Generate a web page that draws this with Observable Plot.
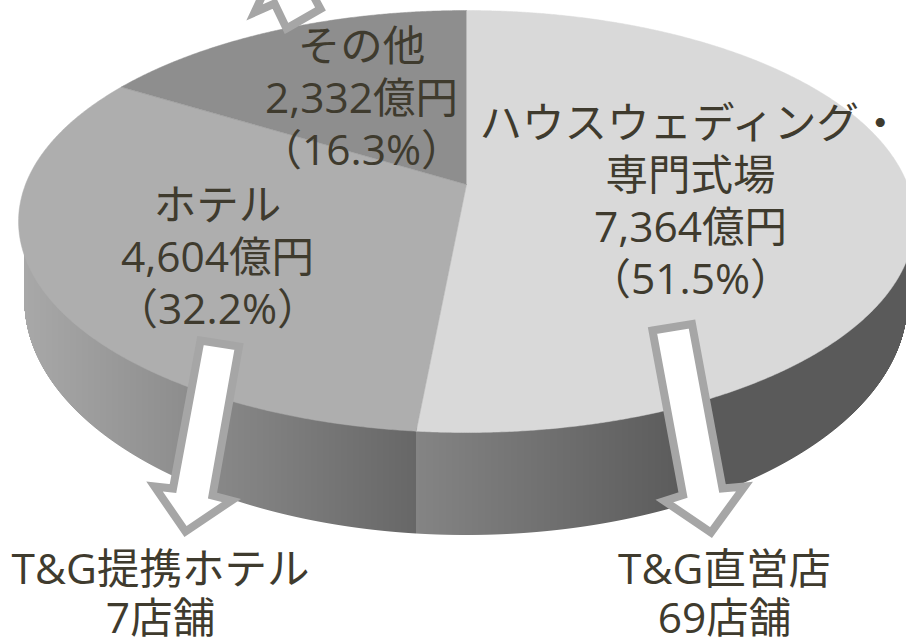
<!DOCTYPE html>
<html lang="ja">
<head>
<meta charset="utf-8">
<script src="https://cdn.jsdelivr.net/npm/d3@7"></script>
<script src="https://cdn.jsdelivr.net/npm/@observablehq/plot@0.6"></script>
<style>
html,body{margin:0;padding:0;background:#fff;overflow:hidden}
</style>
</head>
<body>
<div id="chart"></div>
<script>
// Data
const segments = ["ハウスウェディング・\n専門式場", "ホテル", "その他"];
const amounts = [7364, 4604, 2332];
const shares = [51.5, 32.2, 16.3];
const faceColors = ["#d9d9d9", "#aeaeae", "#8e8e8e"];
const stores = ["T&G直営店\n69店舗", "T&G提携ホテル\n7店舗"];

// Layout
const W = 906, H = 639;
const apex = {x: 466, y: 184}, k = 0.1754, a = 204.5, b = 441;
const rim = {cx: 466, cy: 221, rx: 448, ry: 211};
const base = {cx: 466, cy: 300, rx: 442, ry: 235};
const project = (t) => {
  const u = Math.sin(t), v = Math.cos(t), d = 1 + k * v;
  return {x: apex.x + b * u / d, y: apex.y - a * v / d};
};

// Top face of the pie, one polygon per share
let acc = 0;
const face = [];
shares.forEach((s, i) => {
  const t0 = acc / 100 * 2 * Math.PI;
  acc += s;
  const t1 = acc / 100 * 2 * Math.PI;
  face.push({i, ...apex});
  const n = Math.ceil((t1 - t0) / 0.005);
  for (let j = 0; j <= n; j++) face.push({i, ...project(t0 + (t1 - t0) * j / n)});
});
const seamX = project(shares[0] / 100 * 2 * Math.PI).x;

// Side wall, one thin column per pixel of width
const grayLeft = d3.scaleLinear().domain([base.cx - base.rx, seamX]).range([168, 103]);
const grayRight = d3.scaleLinear().domain([seamX, 690, W]).range([132, 90, 90]);
const wall = d3.range(Math.ceil(base.cx - base.rx), W).map((x) => {
  const g = Math.round(x < seamX ? grayLeft(x) : grayRight(x));
  const arc = (e) => e.cy + e.ry * Math.sqrt(Math.max(0, 1 - ((x + 0.5 - e.cx) / e.rx) ** 2));
  return {x1: x, x2: x + 1, y1: arc(rim) - 3, y2: arc(base), fill: `rgb(${g},${g},${g})`};
});

// Hollow arrows
const arrows = [
  [[286,28],[320,8.5],[310,-10],[330,-20],[268,-18],[254,12],[274,3]],
  [[200,340],[238.5,346],[212,495],[231,500],[185,531],[154,486],[172.5,488]],
  [[652,330],[691.5,323.5],[722,488],[744,486],[710.5,532],[664,500.5],[682.5,494.5]]
].flatMap((pts, i) => pts.map(([x, y]) => ({i, x, y})));

// Labels
const fmt = d3.format(",");
const pieStep = 52, storeStep = 48.5;
const pieLabels = segments.map((s, i) => [...s.split("\n"), `${fmt(amounts[i])}億円`, `（${shares[i]}%）`]);
const pieAnchors = [{x: 690, y: 124}, {x: 217, y: 206}, {x: 361, y: 47}];
const storeLabels = stores.map((s) => s.split("\n"));
const storeAnchors = [{x: 724, y: 570}, {x: 160, y: 570}];
const textRows = [...pieLabels.flatMap((lines, i) => lines.map((text, j) => ({text, x: pieAnchors[i].x, y: pieAnchors[i].y + j * pieStep}))),
  ...storeLabels.flatMap((lines, i) => lines.map((text, j) => ({text, x: storeAnchors[i].x, y: storeAnchors[i].y + j * storeStep})))];

const chart = Plot.plot({
  width: W, height: H,
  margin: 0,
  x: {domain: [0, W], range: [0, W], axis: null},
  y: {domain: [0, H], range: [0, H], axis: null},
  color: {type: "identity"},
  style: {background: "#fff", overflow: "hidden"},
  marks: [
    Plot.rect(wall, {x1: "x1", x2: "x2", y1: "y1", y2: "y2", fill: "fill"}),
    Plot.line(face, {x: "x", y: "y", z: "i", fill: (d) => faceColors[d.i], stroke: (d) => faceColors[d.i], strokeWidth: 0.5, curve: "linear"}),
    Plot.line(arrows, {x: "x", y: "y", z: "i", fill: "#fff", stroke: "#a6a6a6", strokeWidth: 8, strokeLinejoin: "miter", strokeMiterlimit: 6, curve: "linear-closed"}),
    Plot.text(textRows, {x: "x", y: "y", text: "text", fontSize: 42.5, fill: "#3f3b2e", textAnchor: "middle", lineAnchor: "middle",
      fontFamily: "'Open Sans','Noto Sans CJK JP',sans-serif", fontWeight: 400})
  ]
});
document.getElementById("chart").append(chart);
</script>
</body>
</html>
